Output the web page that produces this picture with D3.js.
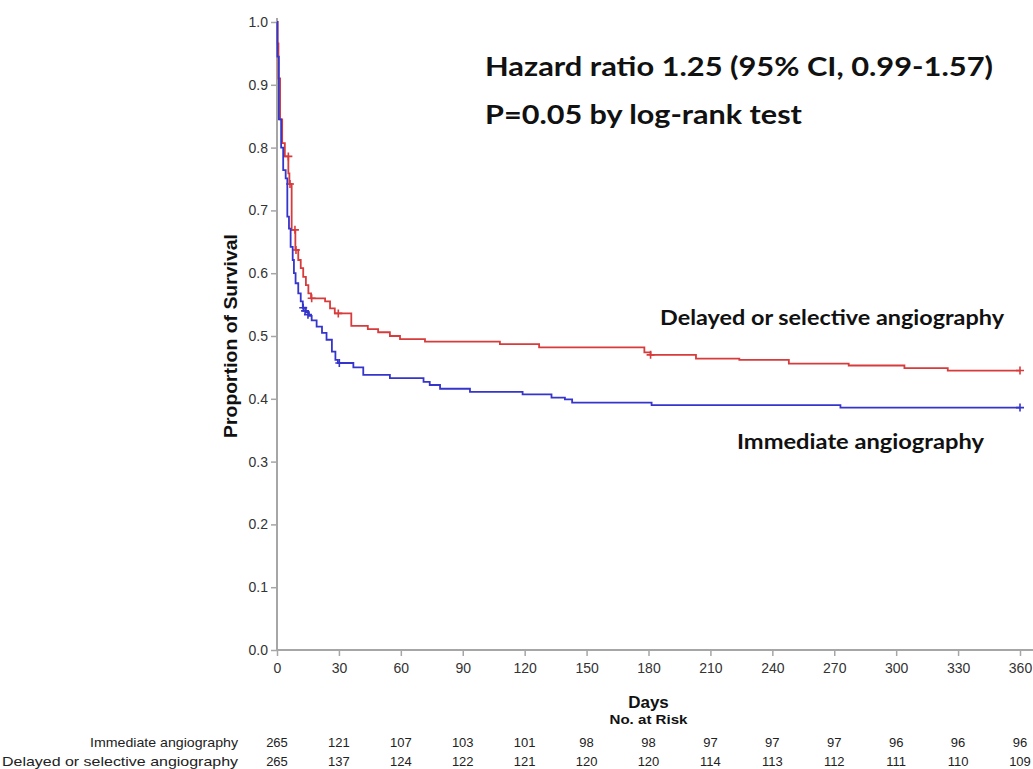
<!DOCTYPE html>
<html lang="en">
<head>
  <meta charset="utf-8" />
  <title>Survival curve</title>
  <style>
    body { margin: 0; background: #fff; }
    svg text { font-family: "Liberation Sans", Arial, sans-serif; }
    .note { font-family: Lato, "Open Sans", sans-serif !important; font-weight: bold; fill: #111; }
  </style>
  <script src="https://d3js.org/d3.v7.min.js"></script>
</head>
<body>
<script>

// ticks and group names
const xTicks = [0, 30, 60, 90, 120, 150, 180, 210, 240, 270, 300, 330, 360];
const yTicks = [0, 0.1, 0.2, 0.3, 0.4, 0.5, 0.6, 0.7, 0.8, 0.9, 1.0];
const groups = ["Immediate angiography", "Delayed or selective angiography"];

// number at risk, one per x tick
const riskImmediate = [265, 121, 107, 103, 101, 98, 98, 97, 97, 97, 96, 96, 96];
const riskDelayed   = [265, 137, 124, 122, 121, 120, 120, 114, 113, 112, 111, 110, 109];

// step points: [day, survival]
const delayedSteps = [
  [0, 1.0], [0.3, 0.966], [0.7, 0.91], [1.5, 0.845], [2.5, 0.807], [3.8, 0.786],
  [5.5, 0.759], [6, 0.742], [7.1, 0.669], [8.9, 0.637], [10.3, 0.621], [11.5, 0.608],
  [12.7, 0.594], [14, 0.581], [15.2, 0.568], [16.5, 0.560], [23.3, 0.555], [25.7, 0.544],
  [28, 0.536], [36, 0.516], [44, 0.511], [49, 0.506], [54.7, 0.500], [59.6, 0.495],
  [71.7, 0.491], [108, 0.487], [127, 0.482], [178, 0.474], [181, 0.470], [203, 0.464],
  [224, 0.462], [248, 0.456], [277, 0.453], [304, 0.449], [325, 0.445], [360, 0.445]
];
const immediateSteps = [
  [0, 1.0], [0.2, 0.945], [0.9, 0.845], [2, 0.80], [3, 0.764], [4.2, 0.751],
  [5, 0.69], [5.8, 0.671], [6.6, 0.642], [7.6, 0.621], [8.2, 0.600], [9, 0.584],
  [10.3, 0.568], [11.5, 0.555], [12.5, 0.545], [14, 0.538], [15.5, 0.532], [16.8, 0.525],
  [19.2, 0.515], [21.8, 0.505], [24, 0.494], [26.6, 0.475], [28.3, 0.462], [29.5, 0.457],
  [37, 0.450], [41.8, 0.438], [54.7, 0.433], [71, 0.427], [74, 0.422], [79, 0.416],
  [93.5, 0.411], [119, 0.407], [133, 0.402], [139.5, 0.399], [143, 0.394], [181.5, 0.390],
  [273, 0.386], [360, 0.386]
];

// censored marks
const delayedCensor = [[5.5, 0.786], [6.3, 0.742], [8.7, 0.669], [9.2, 0.637], [16.8, 0.560], [29.7, 0.536], [181, 0.470], [360, 0.445]];
const immediateCensor = [[12.7, 0.545], [13.6, 0.540], [15, 0.534], [30.2, 0.457], [360, 0.386]];

const W = 1033, H = 769;
const svg = d3.select("body").append("svg")
    .attr("width", W)
    .attr("height", H);

const x = d3.scaleLinear().domain([0, 360]).range([277, 1020]);
const y = d3.scaleLinear().domain([0, 1]).range([650, 22]);

const axisCol = "#a6a6a6";

// y axis
const gy = svg.append("g")
    .attr("transform", `translate(${x(0)},0)`)
    .call(d3.axisLeft(y).tickValues(yTicks).tickFormat(d3.format(".1f")).tickSize(6).tickSizeOuter(0));
gy.select(".domain").attr("stroke", axisCol).attr("stroke-width", 2)
  .attr("d", `M0,${y(0)}V${y(1) - 4}`);
gy.selectAll(".tick line").attr("stroke", axisCol).attr("stroke-width", 1.5);
gy.selectAll(".tick text").attr("fill", "#333").style("font-size", "14px").attr("x", -9);

// x axis
const gx = svg.append("g")
    .attr("transform", `translate(0,${y(0)})`)
    .call(d3.axisBottom(x).tickValues(xTicks).tickSize(6).tickSizeOuter(0));
gx.select(".domain").attr("stroke", axisCol).attr("stroke-width", 2)
  .attr("d", `M${x(0)},0H${W}`);
gx.selectAll(".tick line").attr("stroke", axisCol).attr("stroke-width", 1.5);
gx.selectAll(".tick text").attr("fill", "#333").style("font-size", "14px").attr("y", 13);

// axis titles
svg.append("text")
    .attr("transform", `translate(237,${(y(0) + y(1)) / 2}) rotate(-90)`)
    .attr("text-anchor", "middle")
    .style("font-size", "18px").style("font-weight", "bold").attr("fill", "#111")
    .attr("textLength", 204).attr("lengthAdjust", "spacingAndGlyphs")
    .text("Proportion of Survival");

svg.append("text")
    .attr("x", x(180)).attr("y", 708)
    .attr("text-anchor", "middle")
    .style("font-size", "17px").style("font-weight", "bold").attr("fill", "#111")
    .text("Days");

svg.append("text")
    .attr("x", x(180)).attr("y", 724)
    .attr("text-anchor", "middle")
    .style("font-size", "13px").style("font-weight", "bold").attr("fill", "#111")
    .attr("textLength", 78).attr("lengthAdjust", "spacingAndGlyphs")
    .text("No. at Risk");

// curves
const line = d3.line()
    .x(d => x(d[0]))
    .y(d => y(d[1]))
    .curve(d3.curveStepAfter);

const series = [
  { steps: delayedSteps, censor: delayedCensor, color: "#d83b3b" },
  { steps: immediateSteps, censor: immediateCensor, color: "#3535cc" }
];

series.forEach(s => {
  svg.append("path")
      .datum(s.steps)
      .attr("fill", "none")
      .attr("stroke", s.color)
      .attr("stroke-width", 1.8)
      .attr("d", line);

  svg.selectAll(null)
      .data(s.censor)
      .join("path")
      .attr("transform", d => `translate(${x(d[0])},${y(d[1])})`)
      .attr("d", "M-4,0H4M0,-4V4")
      .attr("stroke", s.color)
      .attr("stroke-width", 1.6);
});

// annotations
const notes = [
  { t: "Hazard ratio 1.25 (95% CI, 0.99-1.57)", x: 485, y: 76, size: 26, w: 508 },
  { t: "P=0.05 by log-rank test", x: 485, y: 124, size: 26, w: 317 },
  { t: "Delayed or selective angiography", x: 660, y: 325, size: 20, w: 344 },
  { t: "Immediate angiography", x: 737, y: 449, size: 20, w: 247 }
];
notes.forEach(n => {
  svg.append("text").attr("class", "note")
      .attr("x", n.x).attr("y", n.y)
      .style("font-size", n.size + "px")
      .attr("textLength", n.w).attr("lengthAdjust", "spacingAndGlyphs")
      .text(n.t);
});

// at-risk table
const rows = [
  { name: groups[0], vals: riskImmediate, yy: 747, w: 148 },
  { name: groups[1], vals: riskDelayed, yy: 766, w: 236 }
];
rows.forEach(r => {
  svg.append("text")
      .attr("x", 238 - r.w).attr("y", r.yy)
      .style("font-size", "13px").attr("fill", "#222")
      .attr("textLength", r.w).attr("lengthAdjust", "spacingAndGlyphs")
      .text(r.name);
  svg.selectAll(null)
      .data(r.vals)
      .join("text")
      .attr("x", (d, i) => x(xTicks[i]))
      .attr("y", r.yy)
      .attr("text-anchor", "middle")
      .style("font-size", "13px").attr("fill", "#222")
      .text(d => d);
});

</script>
</body>
</html>
